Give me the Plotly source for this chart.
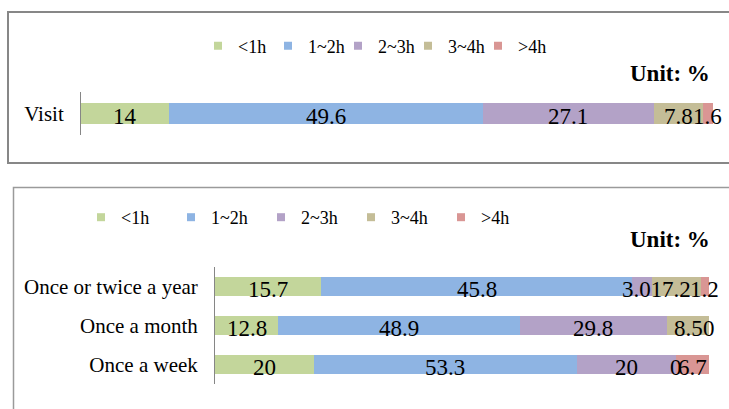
import plotly.graph_objects as go

# ---------------- data ----------------
series_names = ["<1h", "1~2h", "2~3h", "3~4h", ">4h"]
colors = ["#C3D69B", "#8EB4E3", "#B3A2C7", "#C4BD97", "#D99694"]

top_categories = ["Visit"]
top_values = {
    "<1h": [14],
    "1~2h": [49.6],
    "2~3h": [27.1],
    "3~4h": [7.8],
    ">4h": [1.6],
}

bottom_categories = ["Once or twice a year", "Once a month", "Once a week"]
bottom_values = {
    "<1h": [15.7, 12.8, 20],
    "1~2h": [45.8, 48.9, 53.3],
    "2~3h": [3.01, 29.8, 20],
    "3~4h": [7.2, 8.5, 0],
    ">4h": [1.2, 0, 6.7],
}

unit_label = "Unit: %"

# ---------------- figure ----------------
W, H = 729, 409
FONT = "Liberation Serif, Times New Roman, serif"

fig = go.Figure()


def px_x(p):
    return p / W


def px_y(p):
    return 1 - p / H


def add_panel(categories, values, xa, ya, legend_name):
    # bars (100% stacked via barnorm)
    for name, col in zip(series_names, colors):
        fig.add_trace(go.Bar(
            y=categories, x=values[name], orientation="h", name=name,
            marker=dict(color=col, line=dict(width=0)),
            xaxis=xa, yaxis=ya, showlegend=False, hoverinfo="skip",
        ))
    # legend entries (small square markers)
    for name, col in zip(series_names, colors):
        fig.add_trace(go.Scatter(
            x=[None], y=[None], mode="markers", name=name,
            marker=dict(symbol="square", size=8, color=col),
            xaxis=xa, yaxis=ya, legend=legend_name, showlegend=True,
        ))
    # data labels, centred on each (normalised) segment
    for i, cat in enumerate(categories):
        total = sum(values[n][i] for n in series_names)
        cum = 0.0
        for n in series_names:
            v = values[n][i]
            mid = (cum + v / 2) / total * 100
            cum += v
            fig.add_annotation(
                x=mid, y=cat, xref=xa, yref=ya, text=f"{v:g}",
                showarrow=False, yshift=-3,
                font=dict(family=FONT, size=23, color="black"),
            )


add_panel(top_categories, top_values, "x", "y", "legend")
add_panel(bottom_categories, bottom_values, "x2", "y2", "legend2")

axis_common = dict(showgrid=False, zeroline=False)
ycommon = dict(
    showgrid=False, zeroline=False, showline=True, linecolor="#868686",
    linewidth=1, ticks="", ticklabelstandoff=12,
    tickfont=dict(family=FONT, size=21, color="black"),
)

fig.update_layout(
    width=W, height=H,
    margin=dict(l=0, r=0, t=0, b=0),
    paper_bgcolor="white", plot_bgcolor="white",
    font=dict(family=FONT, color="black"),
    barmode="stack", barnorm="percent", bargap=0.5,
    showlegend=True,
    xaxis=dict(domain=[px_x(81), px_x(713)], range=[0, 100], visible=False,
               anchor="y", **axis_common),
    yaxis=dict(domain=[px_y(135), px_y(92)], anchor="x", **ycommon),
    xaxis2=dict(domain=[px_x(215), px_x(709)], range=[0, 100], visible=False,
                anchor="y2", **axis_common),
    yaxis2=dict(domain=[px_y(384), px_y(267)], anchor="x2",
                autorange="reversed", **ycommon),
    legend=dict(orientation="h", x=px_x(198), y=px_y(46), xanchor="left",
                yanchor="middle", bgcolor="rgba(0,0,0,0)",
                font=dict(family=FONT, size=18, color="black"),
                itemwidth=30, entrywidth=25, entrywidthmode="pixels",
                traceorder="normal"),
    legend2=dict(orientation="h", x=px_x(81), y=px_y(217.5), xanchor="left",
                 yanchor="middle", bgcolor="rgba(0,0,0,0)",
                 font=dict(family=FONT, size=18, color="black"),
                 itemwidth=30, entrywidth=45, entrywidthmode="pixels",
                 traceorder="normal"),
)

# unit labels
for yc in (73, 239.5):
    fig.add_annotation(x=px_x(712), y=px_y(yc), xref="paper", yref="paper",
                       xanchor="right", yanchor="middle", showarrow=False,
                       text=f"<b>{unit_label}</b>",
                       font=dict(family=FONT, size=23, color="black"))

# panel frames
fig.add_shape(type="rect", xref="paper", yref="paper",
              x0=px_x(8), x1=px_x(745), y0=px_y(163), y1=px_y(12),
              line=dict(color="#878787", width=2), fillcolor="rgba(0,0,0,0)",
              layer="below")
fig.add_shape(type="rect", xref="paper", yref="paper",
              x0=px_x(13.5), x1=px_x(745), y0=px_y(430), y1=px_y(187.5),
              line=dict(color="#9a9a9a", width=1.5), fillcolor="rgba(0,0,0,0)",
              layer="below")

fig.write_html("out.html")
